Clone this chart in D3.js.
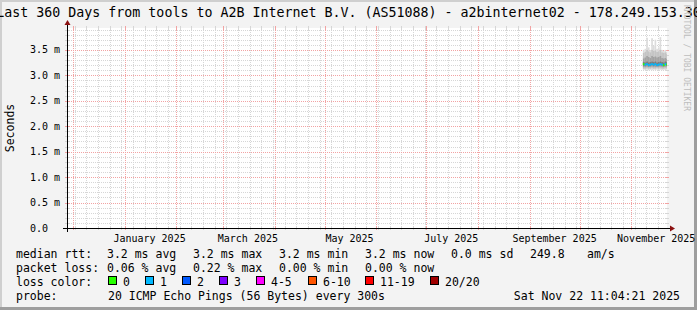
<!DOCTYPE html>
<html>
<head>
<meta charset="utf-8">
<script src="https://cdn.jsdelivr.net/npm/d3@7"></script>
<style>
	body { margin: 0; background: #f3f3f3; }
	svg { display: block; }
	text { font-family: "DejaVu Sans Mono", monospace; fill: #000; }
</style>
</head>
<body>
<div id="chart"></div>
<script>
// Data (values in ms)
var endTime = new Date(2025, 10, 22, 11, 4, 21);
var spanDays = 360;

// one smoke column per day, last two weeks only
var days = ["2025-11-08", "2025-11-09", "2025-11-10", "2025-11-11", "2025-11-12",
	"2025-11-13", "2025-11-14", "2025-11-15", "2025-11-16", "2025-11-17",
	"2025-11-18", "2025-11-19", "2025-11-20", "2025-11-21", "2025-11-22"];
var median = [3.22, 3.21, 3.22, 3.20, 3.21, 3.22, 3.21, 3.22, 3.20, 3.21, 3.22, 3.21, 3.20, 3.22, 3.21];
var pingMin = [3.11, 3.10, 3.11, 3.10, 3.11, 3.10, 3.11, 3.10, 3.11, 3.10, 3.11, 3.10, 3.11, 3.10, 3.11];
var pingMax = [3.50, 3.52, 3.74, 3.55, 3.50, 3.73, 3.58, 3.70, 3.52, 3.55, 3.75, 3.50, 3.48, 3.50, 3.46];
var p10 = [3.13, 3.13, 3.14, 3.13, 3.13, 3.14, 3.13, 3.13, 3.14, 3.13, 3.14, 3.13, 3.13, 3.14, 3.13];
var p90 = [3.44, 3.46, 3.50, 3.47, 3.45, 3.50, 3.48, 3.49, 3.46, 3.47, 3.50, 3.45, 3.44, 3.45, 3.42];
var p25 = [3.16, 3.16, 3.17, 3.16, 3.16, 3.17, 3.16, 3.16, 3.17, 3.16, 3.17, 3.16, 3.16, 3.17, 3.16];
var p75 = [3.33, 3.35, 3.38, 3.36, 3.34, 3.38, 3.36, 3.37, 3.35, 3.36, 3.38, 3.34, 3.33, 3.34, 3.32];
var p40 = [3.19, 3.19, 3.20, 3.18, 3.19, 3.20, 3.19, 3.20, 3.18, 3.19, 3.20, 3.19, 3.18, 3.20, 3.19];
var p60 = [3.26, 3.25, 3.27, 3.25, 3.26, 3.27, 3.26, 3.27, 3.25, 3.26, 3.27, 3.26, 3.25, 3.27, 3.26];
var lossBucket = [0, 1, 1, 1, 1, 1, 1, 1, 1, 1, 1, 1, 0, 1, 0];

var yTicks = [0, 0.5, 1.0, 1.5, 2.0, 2.5, 3.0, 3.5];
var yTickLabels = ["0.0", "0.5 m", "1.0 m", "1.5 m", "2.0 m", "2.5 m", "3.0 m", "3.5 m"];

var lossLabels = ["0", "1", "2", "3", "4-5", "6-10", "11-19", "20/20"];
var lossColors = ["#26ff00", "#00b8ff", "#0059ff", "#7e00ff", "#ff00ff", "#ff5500", "#ff0000", "#a10000"];

var rttStats = ["3.2 ms avg", "3.2 ms max", "3.2 ms min", "3.2 ms now", "0.0 ms sd", "249.8", "am/s"];
var lossStats = ["0.06 % avg", "0.22 % max", "0.00 % min", "0.00 % now"];

var title = "Last 360 Days from tools to A2B Internet B.V. (AS51088) - a2binternet02 - 178.249.153.30";
var probeText = "20 ICMP Echo Pings (56 Bytes) every 300s";
var stamp = "Sat Nov 22 11:04:21 2025";

// Layout
var width = 697, height = 310;
var pLeft = 67, pRight = 667, pTop = 28, pBottom = 228;

var startTime = new Date(endTime.getTime() - spanDays * 86400000);

var svg = d3.select("#chart").append("svg")
	.attr("width", width)
	.attr("height", height);

svg.append("rect").attr("width", width).attr("height", height).attr("fill", "#f3f3f3");
// 3d frame
svg.append("rect").attr("x", 0).attr("y", 0).attr("width", width).attr("height", 2).attr("fill", "#cfcfcf");
svg.append("rect").attr("x", 0).attr("y", 0).attr("width", 2).attr("height", height).attr("fill", "#cfcfcf");
svg.append("rect").attr("x", 0).attr("y", height - 3).attr("width", width).attr("height", 3).attr("fill", "#9e9e9e");
svg.append("rect").attr("x", width - 3).attr("y", 0).attr("width", 3).attr("height", height).attr("fill", "#9e9e9e");

var x = d3.scaleTime().domain([startTime, endTime]).range([pLeft, pRight]);
var y = d3.scaleLinear().domain([0, 3.93]).range([pBottom, pTop]);

svg.append("rect")
	.attr("x", pLeft).attr("y", pTop)
	.attr("width", pRight - pLeft).attr("height", pBottom - pTop)
	.attr("fill", "#ffffff");

var minorCol = "#d6d6d6", majorCol = "#f2a3a3";

// horizontal grid, 0.1 ms minor steps
var hMinor = d3.range(1, 40).filter(function(d){ return d % 5 != 0; })
	.map(function(d){ return d / 10; })
	.filter(function(d){ return y(d) >= pTop; });
var hMajor = yTicks.slice(1);

function hline(vals, col){
	var g = svg.append("g");
	g.selectAll("line").data(vals).enter().append("line")
		.attr("x1", pLeft).attr("x2", pRight)
		.attr("y1", function(d){ return Math.round(y(d)) + 0.5 })
		.attr("y2", function(d){ return Math.round(y(d)) + 0.5 })
		.attr("stroke", col)
		.attr("stroke-dasharray", "1,1");
	g.selectAll("path").data(vals).enter().append("path")
		.attr("d", function(d){
			var yy = Math.round(y(d)) + 0.5;
			return "M" + (pLeft - 2) + "," + yy + "H" + (pLeft + 2) + "M" + (pRight - 2) + "," + yy + "H" + (pRight + 2);
		})
		.attr("stroke", col);
}

function vline(vals, col){
	var g = svg.append("g");
	g.selectAll("line").data(vals).enter().append("line")
		.attr("y1", pTop).attr("y2", pBottom)
		.attr("x1", function(d){ return Math.round(x(d)) + 0.5 })
		.attr("x2", function(d){ return Math.round(x(d)) + 0.5 })
		.attr("stroke", col)
		.attr("stroke-dasharray", "1,1");
	g.selectAll("path").data(vals).enter().append("path")
		.attr("d", function(d){
			var xx = Math.round(x(d)) + 0.5;
			return "M" + xx + "," + (pTop - 2) + "V" + (pTop + 2) + "M" + xx + "," + (pBottom - 2) + "V" + (pBottom + 2);
		})
		.attr("stroke", col);
}

hline(hMinor, minorCol);
vline(d3.timeMonday.range(startTime, endTime), minorCol);
hline(hMajor, majorCol);
vline(d3.timeMonth.range(startTime, endTime), majorCol);

// smoke
var parseDay = d3.timeParse("%Y-%m-%d");
var rows = days.map(function(d, i){
	var t0 = parseDay(d);
	var t1 = d3.timeDay.offset(t0, 1);
	if (t1 > endTime) t1 = endTime;
	return {t0: t0, t1: t1, med: median[i], loss: lossBucket[i],
		bands: [[pingMin[i], pingMax[i]], [p10[i], p90[i]], [p25[i], p75[i]], [p40[i], p60[i]]]};
});
var smokeShades = ["#dcdcdc", "#c4c4c4", "#a2a2a2", "#7a7a7a"];

smokeShades.forEach(function(shade, b){
	svg.append("g").selectAll("rect").data(rows).enter().append("rect")
		.attr("x", function(d){ return x(d.t0) })
		.attr("width", function(d){ return x(d.t1) - x(d.t0) })
		.attr("y", function(d){ return y(d.bands[b][1]) })
		.attr("height", function(d){ return y(d.bands[b][0]) - y(d.bands[b][1]) })
		.attr("fill", shade);
});

svg.append("g").selectAll("rect").data(rows).enter().append("rect")
	.attr("x", function(d){ return x(d.t0) })
	.attr("width", function(d){ return x(d.t1) - x(d.t0) })
	.attr("y", function(d){ return y(d.med) - 1 })
	.attr("height", 2)
	.attr("fill", function(d){ return lossColors[d.loss] });

// axes
var arrow = "#8b1010";
svg.append("line").attr("x1", pLeft - 4).attr("x2", pRight + 4)
	.attr("y1", pBottom + 0.5).attr("y2", pBottom + 0.5).attr("stroke", "#000");
svg.append("line").attr("x1", pLeft + 0.5).attr("x2", pLeft + 0.5)
	.attr("y1", pBottom + 4).attr("y2", pTop - 4).attr("stroke", "#000");
svg.append("path").attr("d", "M" + (pRight + 3) + "," + (pBottom - 2.5) + "L" + (pRight + 8) + "," + (pBottom + 0.5) + "L" + (pRight + 3) + "," + (pBottom + 3.5) + "Z")
	.attr("fill", arrow);
svg.append("path").attr("d", "M" + (pLeft - 2.5) + "," + (pTop - 3) + "L" + (pLeft + 0.5) + "," + (pTop - 8) + "L" + (pLeft + 3.5) + "," + (pTop - 3) + "Z")
	.attr("fill", arrow);

// y labels
svg.append("g").selectAll("text").data(yTicks).enter().append("text")
	.attr("x", pLeft - 37)
	.attr("y", function(d){ return y(d) + 3.5 })
	.attr("font-size", "10px")
	.text(function(d, i){ return yTickLabels[i] });

// x labels, centred in the labelled month
var labelMonths = d3.timeMonth.range(startTime, endTime).filter(function(d){ return d.getMonth() % 2 == 0; });
svg.append("g").selectAll("text").data(labelMonths).enter().append("text")
	.attr("x", function(d){ return x(d3.timeDay.offset(d, 15)) })
	.attr("y", 242)
	.attr("text-anchor", "middle")
	.attr("font-size", "10px")
	.text(d3.timeFormat("%B %Y"));

// titles
svg.append("text").attr("x", width / 2).attr("y", 17)
	.attr("text-anchor", "middle").attr("font-size", "13.3px")
	.text(title);
svg.append("text")
	.attr("transform", "translate(14," + ((pTop + pBottom) / 2) + ") rotate(-90)")
	.attr("text-anchor", "middle").attr("font-size", "11.5px")
	.text("Seconds");
svg.append("text")
	.attr("transform", "translate(684,5) rotate(90)")
	.attr("font-size", "8px")
	.style("fill", "#bdbdbd")
	.text("RRDTOOL / TOBI OETIKER");

// legend
var lg = svg.append("g").attr("font-size", "11.5px").attr("xml:space", "preserve");
var rowY = [258, 272, 286, 300];
lg.append("text").attr("x", 16).attr("y", rowY[0]).text("median rtt:");
var rttX = [107, 193, 279, 365, 451, 530, 587];
lg.selectAll("text.rtt").data(rttStats).enter().append("text").attr("class", "rtt")
	.attr("x", function(d, i){ return rttX[i] }).attr("y", rowY[0]).text(function(d){ return d });

lg.append("text").attr("x", 16).attr("y", rowY[1]).text("packet loss:");
lg.selectAll("text.pl").data(lossStats).enter().append("text").attr("class", "pl")
	.attr("x", function(d, i){ return rttX[i] }).attr("y", rowY[1]).text(function(d){ return d });

lg.append("text").attr("x", 16).attr("y", rowY[2]).text("loss color:");
var boxX = [108, 145, 182, 219, 256, 308, 365, 430];
lg.selectAll("rect.box").data(lossColors).enter().append("rect").attr("class", "box")
	.attr("x", function(d, i){ return boxX[i] + 0.5 })
	.attr("y", rowY[2] - 9.5)
	.attr("width", 8).attr("height", 8)
	.attr("fill", function(d){ return d })
	.attr("stroke", "#000");
lg.selectAll("text.lc").data(lossLabels).enter().append("text").attr("class", "lc")
	.attr("x", function(d, i){ return boxX[i] + 15 }).attr("y", rowY[2]).text(function(d){ return d });

lg.append("text").attr("x", 16).attr("y", rowY[3]).text("probe:");
lg.append("text").attr("x", 108).attr("y", rowY[3]).text(probeText);
lg.append("text").attr("x", 680).attr("y", rowY[3]).attr("text-anchor", "end").text(stamp);
</script>
</body>
</html>
